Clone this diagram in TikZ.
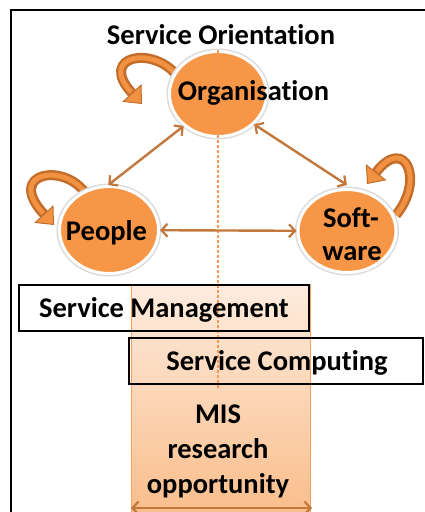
\documentclass[tikz,border=0pt]{standalone}
\usepackage{fontspec}
\setmainfont{Carlito}[RawFeature={-liga;-dlig}]
\usetikzlibrary{arrows.meta,shapes.geometric}
\definecolor{circfill}{RGB}{247,150,70}
\definecolor{arrcol}{RGB}{194,120,60}
\definecolor{loopdark}{RGB}{196,108,42}
\definecolor{looplight}{RGB}{240,146,66}
\definecolor{dashcol}{RGB}{244,152,84}
\definecolor{coltop}{RGB}{253,236,222}
\definecolor{colbot}{RGB}{250,190,140}
\definecolor{colline}{RGB}{247,160,95}
\tikzset{
  circnode/.style={ellipse, draw=white, line width=3pt, fill=circfill,
    preaction={draw=black!14, line width=6pt}},
  biarrow/.style={draw=arrcol, line width=2.4pt,
    {Straight Barb[length=6pt,width=13pt,line width=2.2pt]}-{Straight Barb[length=6pt,width=13pt,line width=2.2pt]}},
  loopband/.style={draw=loopdark, line width=10pt,
    -{Triangle[width=26pt,length=15pt,line width=1pt,fill=looplight]}},
  loopinner/.style={draw=looplight, line width=5pt, shorten >=16pt},
  lbl/.style={font=\bfseries\fontsize{28.5}{35}\selectfont, inner sep=0pt, anchor=base},
  boxstyle/.style={draw=black, line width=2pt},
}
\begin{document}
\begin{tikzpicture}[x=1pt,y=-1pt]
\useasboundingbox (0,0) rectangle (425,512);
\fill[white] (0,0) rectangle (425,512);
% frame
\draw[line width=2.5pt] (11,540) -- (11,10) -- (450,10);
% column
\shade[top color=coltop, bottom color=colbot] (131,284) rectangle (310,512);
\draw[colline, line width=0.8pt] (131,520) -- (131,284) -- (310,284) -- (310,520);
% self loops (drawn before circles)
\draw[loopband] (178,77) .. controls (155,45) and (97,55) .. (142,104);
\draw[loopinner] (178,77) .. controls (155,45) and (97,55) .. (142,104);
\draw[loopband] (86,194) .. controls (65,162) and (5,172) .. (54,225);
\draw[loopinner] (86,194) .. controls (65,162) and (5,172) .. (54,225);
\draw[loopband] (396,215) .. controls (425,180) and (405,135) .. (367,184);
\draw[loopinner] (396,215) .. controls (425,180) and (405,135) .. (367,184);
% circles
\node[circnode, minimum width=97pt, minimum height=85pt] (org) at (218,94) {};
\node[circnode, minimum width=99pt, minimum height=87pt] (ppl) at (109,230) {};
\node[circnode, minimum width=98pt, minimum height=83pt] (sw) at (347,231) {};
% dashed line
\coordinate (dtop) at (218,50);
\coordinate (dbot) at (218,388);
\draw[dashcol, line width=1.3pt, dash pattern=on 3pt off 2pt] (dtop) -- (dbot);
% connectors
\draw[biarrow] (org.223) -- (ppl.91);
\draw[biarrow] (org.320) -- ([yshift=3pt]sw.90);
\draw[biarrow] (ppl) -- (sw);
\coordinate (arrL) at (131,508);
\coordinate (arrR) at (312,508);
\draw[biarrow] (arrL) -- (arrR);
% texts
\node[lbl] (title) at (221,44) {Service Orientation};
\node[lbl] (orgt) at (253.5,100) {Organisation};
\node[lbl] (pplt) at (106.5,240) {People};
\node[lbl] (soft1) at (351,227) {Soft-};
\node[lbl] (soft2) at (352,260) {ware};
\node[lbl] (mis1) at (218,423) {MIS};
\node[lbl] (mis2) at (218,458) {research};
\node[lbl] (mis3) at (218,493) {opportunity};
% boxes
\draw[boxstyle] (19,285) rectangle (309,331);
\node[lbl] (smt) at (164,317) {Service Management};
\draw[boxstyle] (129,338) rectangle (423,384);
\node[lbl] (sct) at (277,370) {Service Computing};
\end{tikzpicture}
\end{document}
